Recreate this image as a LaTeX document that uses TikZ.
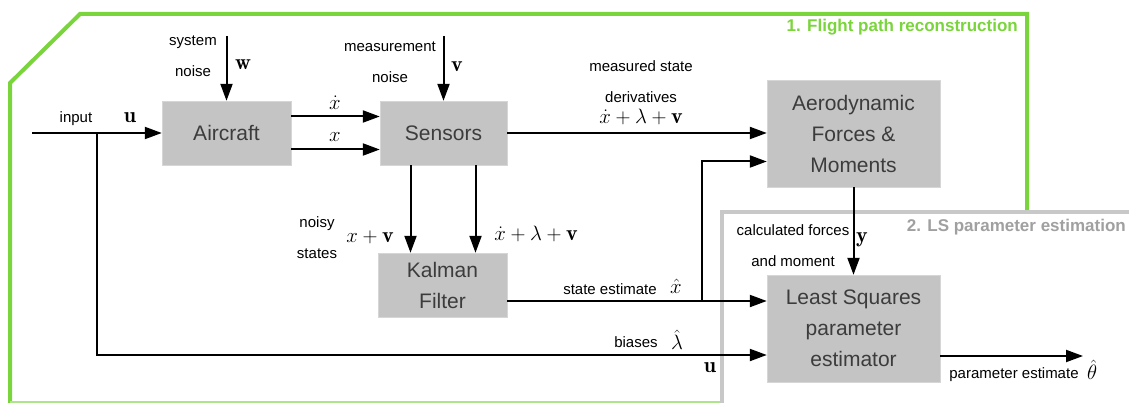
\documentclass[tikz,border=0pt]{standalone}
\usepackage{fontspec}
\setsansfont{Liberation Sans}
\usetikzlibrary{arrows.meta}
\definecolor{flightgreen}{RGB}{122,212,60}
\definecolor{lsgrey}{RGB}{200,200,200}
\definecolor{lstext}{RGB}{160,160,160}
\definecolor{boxgrey}{RGB}{196,196,196}
\definecolor{boxtext}{RGB}{60,60,60}
\begin{document}
\begin{tikzpicture}[x=1pt,y=-1pt,
	block/.style={fill=boxgrey,draw=boxgrey!70!white,text=boxtext,font=\sffamily\fontsize{21}{31}\selectfont,align=center,inner sep=0pt},
	lbl/.style={font=\sffamily\fontsize{15}{31}\selectfont,align=center,inner sep=0pt},
	sym/.style={font=\fontsize{22}{26}\selectfont,inner sep=0pt},
	sig/.style={line width=2pt,-{Triangle[length=17pt,width=12pt]}}]
\useasboundingbox (0,0) rectangle (1129,403);
\draw[flightgreen,line width=4pt] (10,403) -- (10,83) -- (80,14) -- (1027,14) -- (1027,300);
\draw[flightgreen!60,line width=2pt] (10,402) -- (730,402);
\draw[lsgrey,line width=4pt,fill=white] (722,212) rectangle (1145,420);
\node[lbl,anchor=east,font=\sffamily\bfseries\fontsize{17}{20}\selectfont,text=flightgreen] (fpr) at (1018,27) {1. Flight path reconstruction};
\node[lbl,anchor=east,font=\sffamily\bfseries\fontsize{17}{20}\selectfont,text=lstext] (lse) at (1126,227) {2. LS parameter estimation};
\node[block,minimum width=129pt,minimum height=64pt] (ac) at (226.5,133) {Aircraft};
\node[block,minimum width=127pt,minimum height=64pt] (se) at (443.5,133) {Sensors};
\node[block,minimum width=173pt,minimum height=107pt] (ae) at (853.5,133.5) {Aerodynamic\\Forces \&\\Moments};
\node[block,minimum width=129pt,minimum height=64pt] (kf) at (442.5,285) {Kalman\\Filter};
\node[block,minimum width=173pt,minimum height=107pt] (ls) at (853.5,328.5) {Least Squares\\parameter\\estimator};
\coordinate (in) at (32,133);
\coordinate (br) at (97,133);
\coordinate (w) at (226.5,36);
\coordinate (v) at (443.5,36);
\coordinate (kb) at (702,301);
\coordinate (th) at (1083,356);
\draw[sig] (in) -- (ac);
\draw[sig] (br) |- ([yshift=-26.5pt]ls.west);
\draw[sig] (w) -- (ac);
\draw[sig] (v) -- (se);
\draw[sig] ([yshift=16.5pt]ac.east) -- ([yshift=16.5pt]se.west);
\draw[sig] ([yshift=-16.5pt]ac.east) -- ([yshift=-16.5pt]se.west);
\draw[sig] (se.east) -- (se.east -| ae.west);
\draw[sig] ([xshift=-33pt]se.south) -- ([xshift=-33pt]se.south |- kf.north);
\draw[sig] ([xshift=32pt]se.south) -- ([xshift=32pt]se.south |- kf.north);
\draw[sig] ([yshift=-16pt]kf.east) -- ([yshift=-16pt]kf.east -| ls.west);
\draw[sig] (kb) |- ([yshift=-28pt]ae.west);
\draw[sig] (ae) -- (ls);
\draw[sig] (ls.east |- th) -- (th);
\node[lbl] (inl) at (76,119) {input};
\node[sym] (u1) at (130,118) {$\mathbf{u}$};
\node[lbl] (sn) at (193,56) {system\\noise};
\node[sym] (wl) at (243,65) {$\mathbf{w}$};
\node[lbl] (mn) at (390,62) {measurement\\noise};
\node[sym] (vl) at (457,67) {$\mathbf{v}$};
\node[sym] (xd) at (335,103) {$\dot{x}$};
\node[sym] (xs) at (335,137) {$x$};
\node[lbl] (msd) at (641,82) {measured state\\derivatives};
\node[sym] (m1) at (641,117) {$\dot{x}+\lambda+\mathbf{v}$};
\node[lbl] (ns) at (317,238) {noisy\\states};
\node[sym] (m2) at (370,237) {$x+\mathbf{v}$};
\node[sym] (m3) at (536,234) {$\dot{x}+\lambda+\mathbf{v}$};
\node[lbl] (sel) at (610,289) {state estimate};
\node[sym] (xh) at (676,286) {$\hat{x}$};
\node[lbl] (bl) at (636,342) {biases};
\node[sym] (lh) at (677,340) {$\hat{\lambda}$};
\node[sym] (u2) at (710,368) {$\mathbf{u}$};
\node[lbl] (cf) at (793,246) {calculated forces\\and moment};
\node[sym] (yl) at (862,240) {$\mathbf{y}$};
\node[lbl] (pe) at (1014,375) {parameter estimate};
\node[sym] (thl) at (1092,370) {$\hat{\theta}$};
\end{tikzpicture}
\end{document}
